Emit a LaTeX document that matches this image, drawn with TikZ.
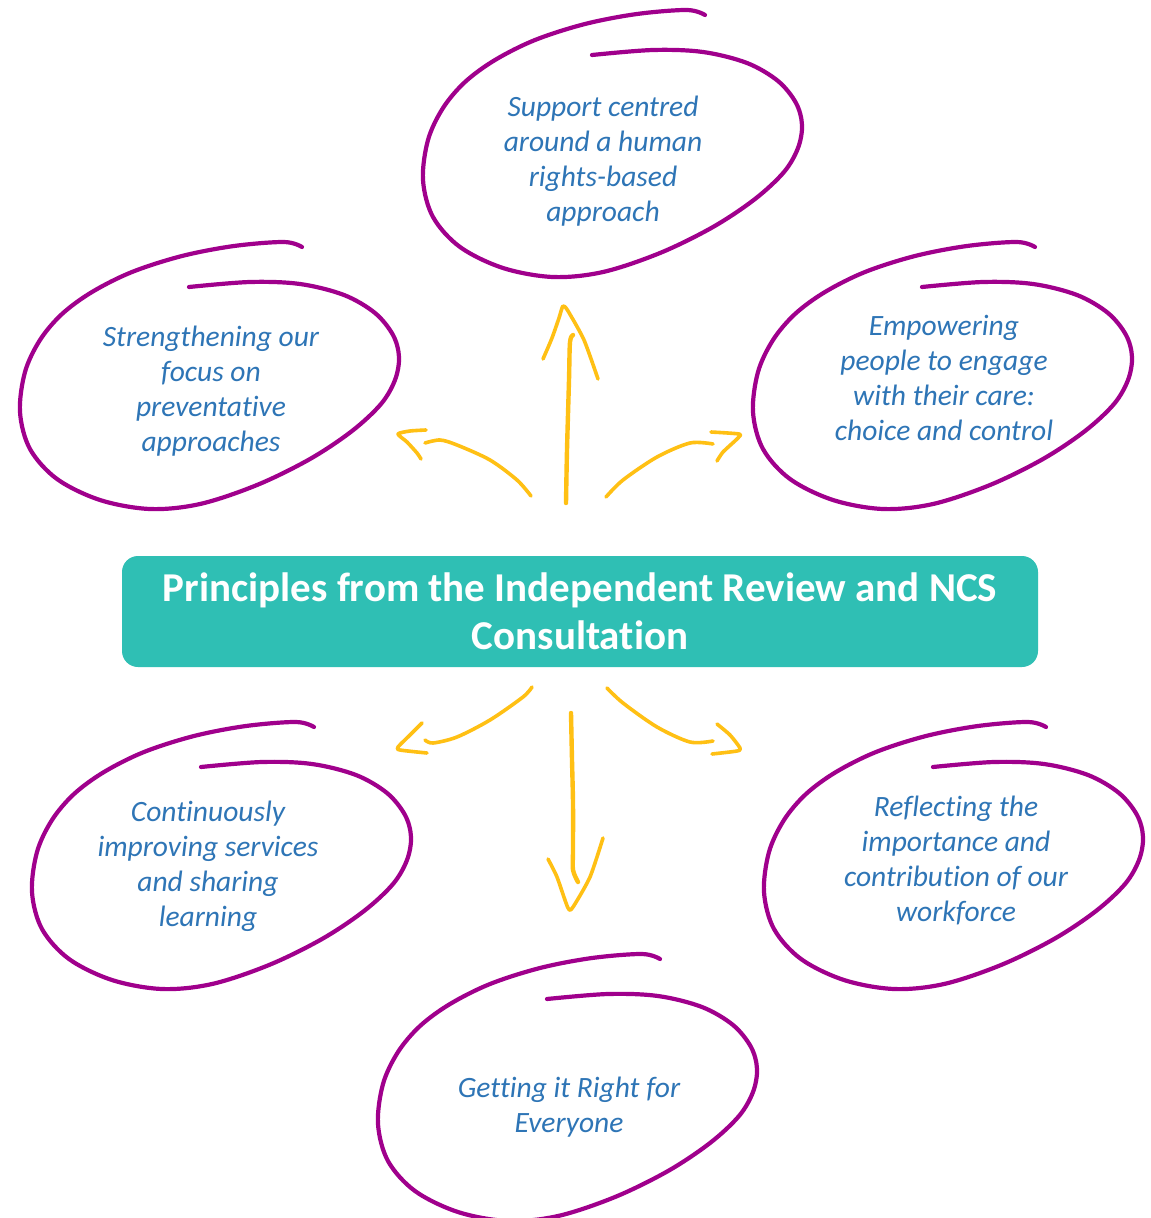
\documentclass[tikz,border=0pt]{standalone}
\usepackage{fontspec}
\setmainfont{Carlito}[Ligatures={NoCommon}]
\definecolor{ringpurple}{RGB}{160,0,140}
\definecolor{arrowyellow}{RGB}{255,192,20}
\definecolor{labelblue}{RGB}{46,117,182}
\definecolor{boxteal}{RGB}{47,191,180}
\newcommand\ringat[1]{\draw[ring,shift={#1}] plot[smooth,tension=0.55] coordinates {(592,55) (653,50) (703,52) (747,63) (778,81) (796,103) (802,125) (798,148) (784,172) (755,199) (713,227) (660,253) (603,272) (553,277) (503,268) (460,247) (433,217) (423,180) (428,140) (443,108) (465,82) (495,60) (535,40) (585,24) (637,14) (687,10) (705,15)};}
\begin{document}
\begin{tikzpicture}[x=1pt,y=-1pt,
  ring/.style={draw=ringpurple,line width=4.2pt,line cap=round,line join=round},
  arw/.style={draw=arrowyellow,line width=3.6pt,line cap=round,line join=round},
  lbl/.style={text=labelblue,font=\fontsize{29.5}{35}\selectfont\itshape,align=center,inner sep=0pt},
  titlebox/.style={fill=boxteal,rounded corners=16pt,text=white,font=\fontsize{41}{48}\selectfont\bfseries,align=center,minimum width=916pt,minimum height=111pt,inner sep=0pt}]
\useasboundingbox (0,0) rectangle (1151,1218);
\fill[white] (0,0) rectangle (1151,1218);

% rings
\ringat{(0,0)}
\ringat{(-403,232)}
\ringat{(330,232)}
\ringat{(-391,712)}
\ringat{(341,712)}
\ringat{(-45,944)}

% central box
\node[titlebox] (title) at (580,611.5) {Principles from the Independent Review and NCS\\Consultation};

% labels
\node[lbl] (p1) at (603,161) {Support centred\\around a human\\rights-based\\approach};
\node[lbl] (p2) at (211,391) {Strengthening our\\focus on\\preventative\\approaches};
\node[lbl] (p3) at (944,378) {Empowering\\people to engage\\with their care:\\choice and control};
\node[lbl] (p4) at (208,866) {Continuously\\improving services\\and sharing\\learning};
\node[lbl] (p5) at (956,860) {Reflecting the\\importance and\\contribution of our\\workforce};
\node[lbl] (p6) at (569,1107) {Getting it Right for\\Everyone};

% up arrow
\draw[arw,line width=4.4pt] plot[smooth] coordinates {(566,503) (567,450) (569,380) (570,342) (573,335)};
\draw[arw] plot[smooth,tension=0.4] coordinates {(543,359) (552,338) (559,318) (563,306) (568,311) (584,340) (598,379)};
% upper-left arrow
\draw[arw] plot[smooth] coordinates {(531,496) (517,480) (490,460) (457,445) (440,440) (425,443)};
\draw[arw] plot[smooth,tension=0.4] coordinates {(426,430) (410,431) (398,434) (407,442) (417,453) (421,459)};
% upper-right arrow
\draw[arw] plot[smooth] coordinates {(606,497) (623,480) (657,457) (690,443) (713,444)};
\draw[arw] plot[smooth,tension=0.4] coordinates {(711,432) (739,434) (738,438) (723,452) (717,461)};
% lower-left arrow
\draw[arw] plot[smooth] coordinates {(532,687) (523,697) (490,720) (457,737) (433,743) (425,740)};
\draw[arw] plot[smooth,tension=0.4] coordinates {(422,723) (410,735) (398,747) (400,750) (427,753)};
% lower-right arrow
\draw[arw] plot[smooth] coordinates {(607,688) (623,703) (657,727) (690,742) (713,741)};
\draw[arw] plot[smooth,tension=0.4] coordinates {(717,724) (730,735) (740,748) (737,751) (712,754)};
% down arrow
\draw[arw,line width=4.4pt] plot[smooth] coordinates {(571,713) (572,760) (573,803) (573,850) (573,870) (578,882)};
\draw[arw] plot[smooth,tension=0.4] coordinates {(548,859) (557,877) (568,908) (573,907) (590,877) (603,838)};
\end{tikzpicture}
\end{document}
